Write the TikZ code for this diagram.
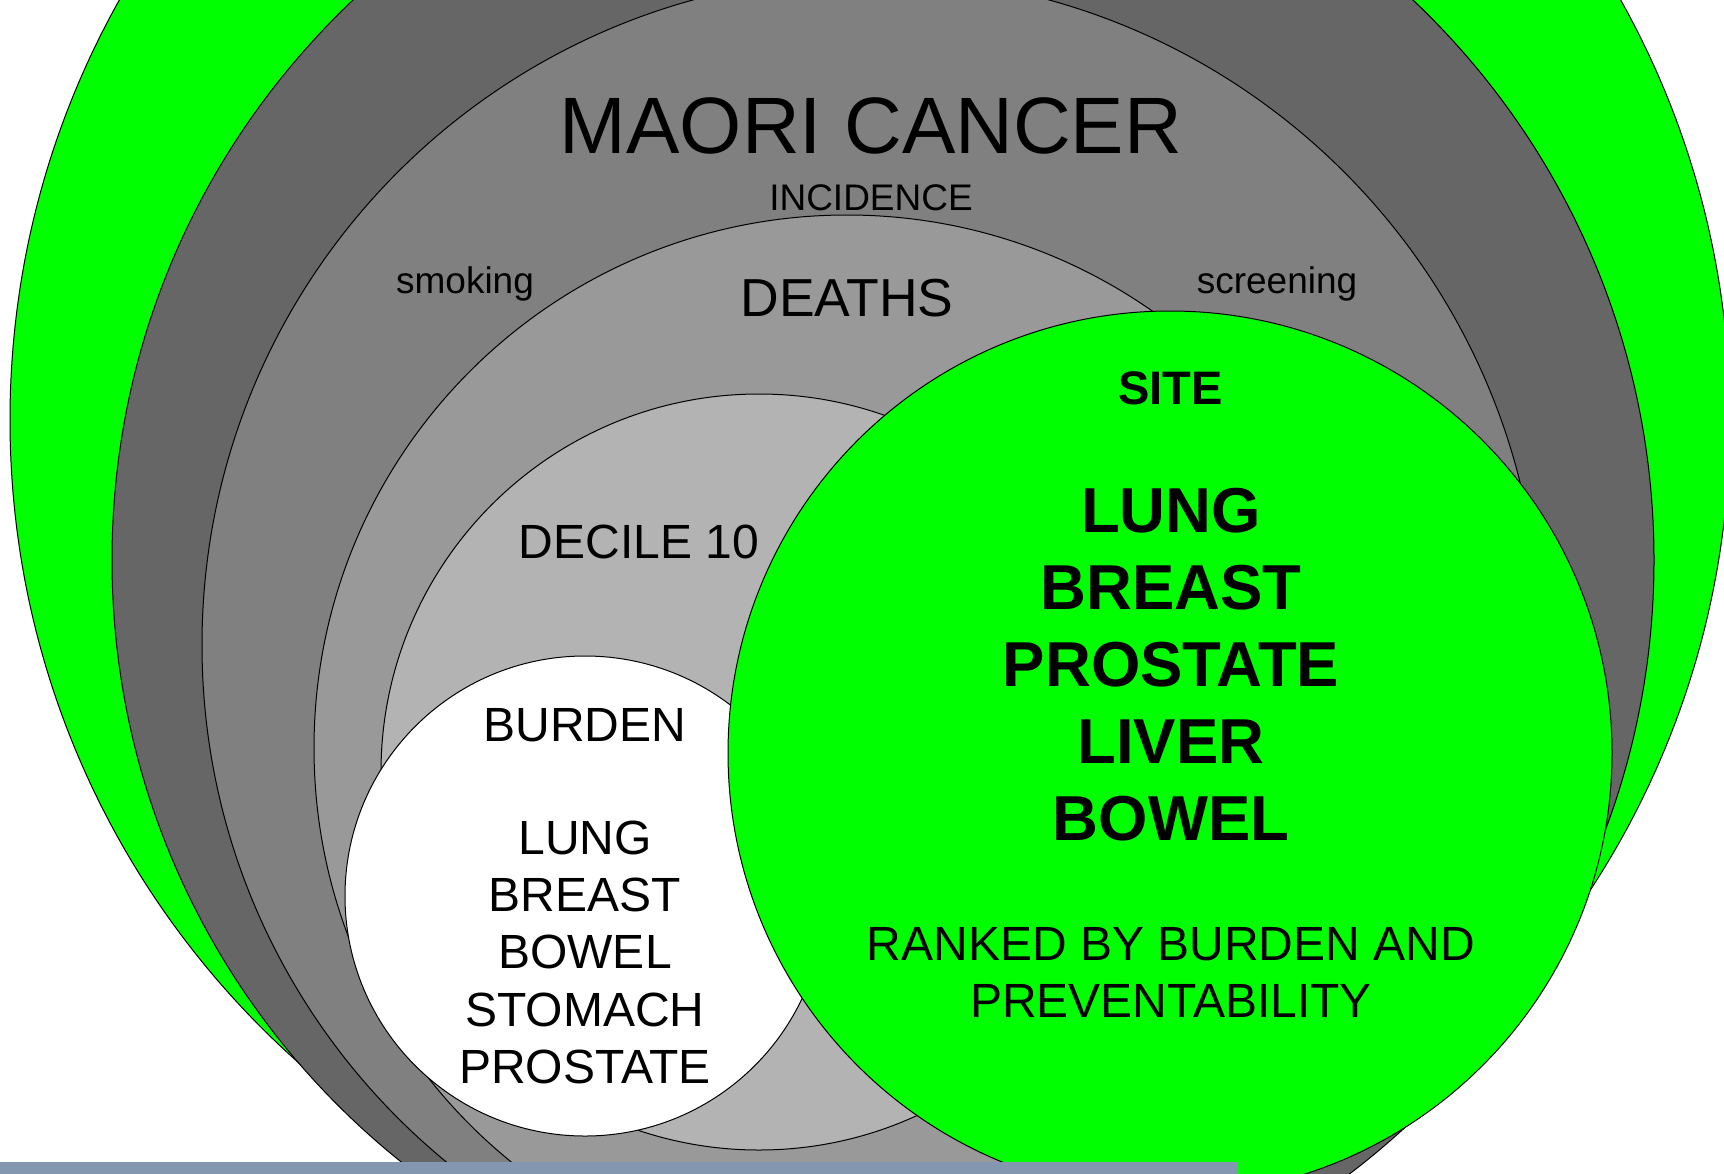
\documentclass[tikz,border=0pt]{standalone}
\usepackage{fontspec}
\setmainfont{Liberation Sans}
\definecolor{ringgreen}{HTML}{00FF00}
\definecolor{gDark}{HTML}{666666}
\definecolor{gMid}{HTML}{808080}
\definecolor{gDeath}{HTML}{999999}
\definecolor{gDecile}{HTML}{B3B3B3}
\definecolor{barblue}{HTML}{8497B0}
\newcommand{\setfs}[1]{\fontsize{#1}{#1}\selectfont}
\tikzset{
  ring/.style={draw=black, line width=1pt},
  lbl/.style={anchor=base, inner sep=0pt, align=center},
  sitelbl/.style={lbl, font=\setfs{63.5}\bfseries}
}
\begin{document}
\begin{tikzpicture}[x=1pt,y=-1pt]
\useasboundingbox (0,0) rectangle (1724,1173);
\clip (0,0) rectangle (1724,1173);
% rings
\path[ring, fill=ringgreen] (870,420) circle [radius=860];
\path[ring, fill=gDark] (883,560) circle [radius=771];
\path[ring, fill=gMid] (871,645) circle [radius=669];
\path[ring, fill=gDeath] (847,748) circle [radius=533];
\path[ring, fill=gDecile] (759,772) circle [radius=378];
\path[ring, fill=white] (585,896) circle [radius=240];
\path[ring, fill=ringgreen] (1170,753) circle [radius=442];
\fill[barblue] (-5,1162) rectangle (1237,1190);
% texts
\node[lbl, font=\setfs{80}] (title) at (871,153) {MAORI CANCER};
\node[lbl, font=\setfs{37}] (incid) at (871,210) {INCIDENCE};
\node[lbl, font=\setfs{37}] (smoke) at (465,293) {smoking};
\node[lbl, font=\setfs{37}] (screen) at (1277,293) {screening};
\node[lbl, font=\setfs{53.5}] (deaths) at (847,316) {DEATHS};
\node[lbl, font=\setfs{48}] (decile) at (639,558) {DECILE 10};
\node[lbl, font=\setfs{48}] (burden) at (585,741) {BURDEN};
\node[lbl, font=\setfs{48}] (b1) at (585,854) {LUNG};
\node[lbl, font=\setfs{48}] (b2) at (585,911) {BREAST};
\node[lbl, font=\setfs{48}] (b3) at (585,968) {BOWEL};
\node[lbl, font=\setfs{48}] (b4) at (585,1026) {STOMACH};
\node[lbl, font=\setfs{48}] (b5) at (585,1083) {PROSTATE};
\node[lbl, font=\setfs{47}\bfseries] (site) at (1170.5,404) {SITE};
\node[sitelbl] (s1) at (1171,532) {LUNG};
\node[sitelbl] (s2) at (1171,609) {BREAST};
\node[sitelbl] (s3) at (1171,686) {PROSTATE};
\node[sitelbl] (s4) at (1171,763) {LIVER};
\node[sitelbl] (s5) at (1171,840) {BOWEL};
\node[lbl, font=\setfs{48}] (rank1) at (1171,960) {RANKED BY BURDEN AND};
\node[lbl, font=\setfs{48}] (rank2) at (1171,1017) {PREVENTABILITY};
\end{tikzpicture}
\end{document}
